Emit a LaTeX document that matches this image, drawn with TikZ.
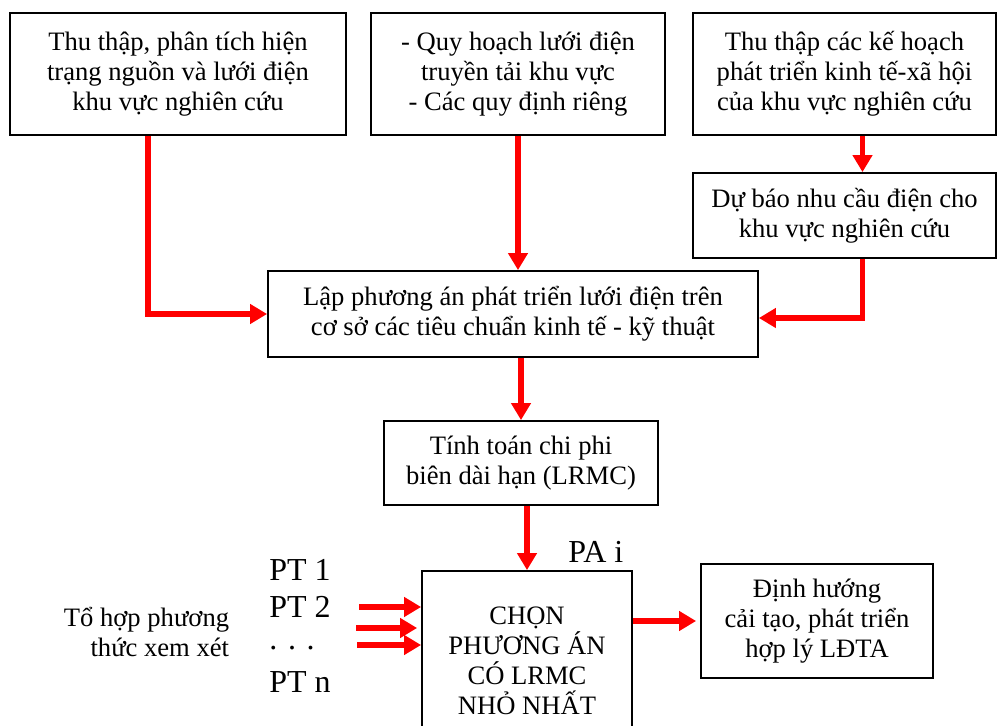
\documentclass[tikz,border=0pt]{standalone}
\usepackage{fontspec}
\setmainfont{Liberation Serif}
\usetikzlibrary{arrows.meta}

\begin{document}
\begin{tikzpicture}[
  x=0.5pt, y=-0.5pt,
  >={Triangle[length=8.5pt,width=9.5pt]},
  box/.style={draw, line width=0.9pt, align=center, inner sep=2pt, font=\fontsize{13.3}{15}\selectfont},
  flow/.style={->, red, line width=2.7pt},
  ptlabel/.style={inner sep=0pt, font=\fontsize{16}{18}\selectfont}
]
  \clip (0,0) rectangle (997,726);
  % upper row
  \node[box, minimum width=168pt, minimum height=61pt] (thu) at (178,74)
    {Thu thập, phân tích hiện\\trạng nguồn và lưới điện\\khu vực nghiên cứu};
  \node[box, minimum width=147pt, minimum height=61pt] (quy) at (518,74)
    {- Quy hoạch lưới điện\\truyền tải khu vực\\- Các quy định riêng};
  \node[box, minimum width=151.5pt, minimum height=61pt] (kh) at (844.5,74)
    {Thu thập các kế hoạch\\phát triển kinh tế-xã hội\\của khu vực nghiên cứu};
  \node[box, minimum width=151.5pt, minimum height=42.5pt] (dubao) at (844.5,215.5)
    {Dự báo nhu cầu điện cho\\khu vực nghiên cứu};
  % middle
  \node[box, minimum width=245pt, minimum height=43pt] (lap) at (513,314)
    {Lập phương án phát triển lưới điện trên\\cơ sở các tiêu chuẩn kinh tế - kỹ thuật};
  \node[box, minimum width=137pt, minimum height=42pt] (lrmc) at (521,463)
    {Tính toán chi phi\\biên dài hạn (LRMC)};
  % lower row
  \node[box, minimum width=105pt, minimum height=90pt] (chon) at (527,661)
    {CHỌN\\PHƯƠNG ÁN\\CÓ LRMC\\NHỎ NHẤT};
  \node[box, minimum width=116pt, minimum height=57pt] (dinh) at (817,621)
    {Định hướng\\cải tạo, phát triển\\hợp lý LĐTA};
  \node[ptlabel, anchor=west] (pa) at (568,552) {PA i};
  \node[ptlabel, anchor=west] (pt1) at (269,570) {PT 1};
  \node[ptlabel, anchor=west] (pt2) at (269,607) {PT 2};
  \node[ptlabel, anchor=west] (ptd) at (269,648) {.\,\,.\,\,.};
  \node[ptlabel, anchor=west] (ptn) at (269,682) {PT n};
  \node[box, draw=none, anchor=east, align=right] (tohop) at (234,632)
    {Tổ hợp phương\\thức xem xét};
  \coordinate (in1) at (359,607);
  \coordinate (in2) at (356,628);
  \coordinate (in3) at (357,645);

  \draw[flow] ([xshift=-15pt]thu.south) |- (lap.west);
  \draw[flow] (quy.south) -- (quy.south |- lap.north);
  \draw[flow] ([xshift=9pt]kh.south) -- ([xshift=9pt]kh.south |- dubao.north);
  \draw[flow] ([xshift=9pt]dubao.south) |- ([yshift=-2pt]lap.east);
  \draw[flow] (lrmc.north |- lap.south) -- (lrmc.north);
  \draw[flow] (chon.north |- lrmc.south) -- (chon.north);
  \draw[flow, shorten >=2pt] (chon.east |- dinh.west) -- (dinh.west);
  \draw[flow] (in1) -- (in1 -| chon.west);
  \draw[flow, shorten >=2pt] (in2) -- (in2 -| chon.west);
  \draw[flow] (in3) -- (in3 -| chon.west);
\end{tikzpicture}
\end{document}
